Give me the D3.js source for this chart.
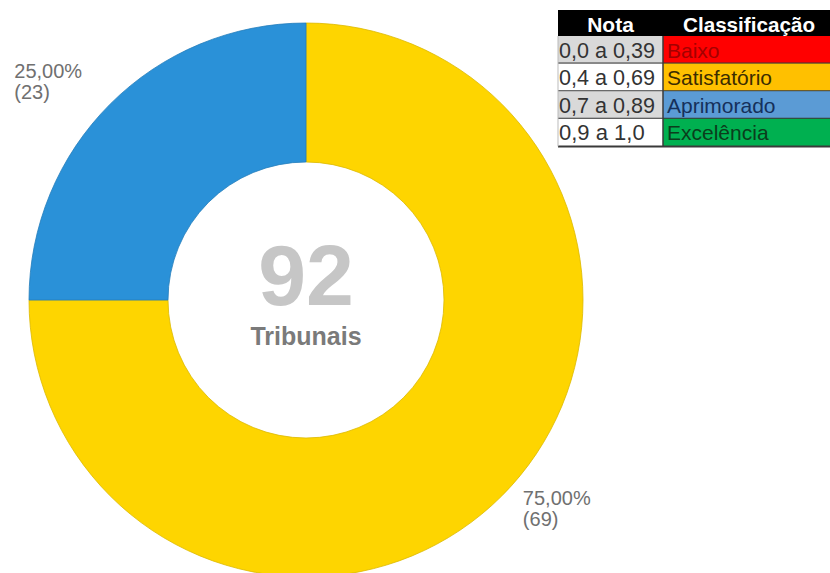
<!DOCTYPE html>
<html>
<head>
<meta charset="utf-8">
<script src="https://cdn.jsdelivr.net/npm/d3@7"></script>
<style>
  body { margin: 0; background: #fff; }
  svg { display: block; font-family: Arial, "Liberation Sans", sans-serif; }
</style>
</head>
<body>
<div id="chart"></div>
<script>
// donut data (order = clockwise from 12 o'clock)
var categories = ["Satisfatório", "Aprimorado"];
var values = [69, 23];
var sliceColors = ["#fed500", "#2a91d8"];
var totalLabel = "Tribunais";

// legend table
var notas = ["0,0 a 0,39", "0,4 a 0,69", "0,7 a 0,89", "0,9 a 1,0"];
var classes = ["Baixo", "Satisfatório", "Aprimorado", "Excelência"];
var classFill = ["#ff0000", "#ffc000", "#5b9bd5", "#00b050"];
var classText = ["#a30000", "#3b2c00", "#15305a", "#0b3d1c"];
var notaFill = ["#d9d9d9", "#ffffff", "#d9d9d9", "#ffffff"];

var width = 830, height = 573;
var cx = 306, cy = 300;
var outerRadius = 277, innerRadius = 138;

var svg = d3.select("#chart").append("svg")
    .attr("width", width)
    .attr("height", height);

var pie = d3.pie().sort(null).value(function(d) { return d; });
var arc = d3.arc().innerRadius(innerRadius).outerRadius(outerRadius);
var total = d3.sum(values);
var fmtPct = function(v) { return d3.format(".2f")(v * 100).replace(".", ",") + "%"; };

var g = svg.append("g")
    .attr("transform", "translate(" + cx + "," + cy + ")");

var arcs = pie(values);

g.selectAll("path.slice")
  .data(arcs)
  .enter().append("path")
    .attr("class", "slice")
    .attr("d", arc)
    .style("fill", function(d, i) { return sliceColors[i]; })
    .style("stroke", function(d, i) { return d3.rgb(sliceColors[i]).darker(0.4); })
    .style("stroke-width", 0.8);

// outside labels, two lines left-aligned as one block
g.selectAll("text.lbl")
  .data(arcs)
  .enter().append("text")
    .attr("class", "lbl")
    .style("font-size", "20px")
    .style("fill", "#707070")
    .each(function(d) {
      var a = (d.startAngle + d.endAngle) / 2;
      var px = Math.sin(a) * outerRadius, py = -Math.cos(a) * outerRadius;
      var y = py < 0 ? py - 26 : py + 9;
      var t = d3.select(this);
      var l1 = t.append("tspan").attr("y", y).text(fmtPct(d.value / total));
      var l2 = t.append("tspan").attr("y", y + 21).text("(" + d.value + ")");
      var w = l1.node().getComputedTextLength();
      var x = px < 0 ? px - 28 - w : px + 21;
      l1.attr("x", x);
      l2.attr("x", x);
    });

// centre
g.append("text")
    .attr("text-anchor", "middle")
    .attr("y", 5)
    .style("font-size", "86px")
    .style("font-weight", "bold")
    .style("fill", "#c6c6c6")
    .text(total);

g.append("text")
    .attr("text-anchor", "middle")
    .attr("y", 45)
    .style("font-size", "25px")
    .style("font-weight", "bold")
    .style("fill", "#7a7a7a")
    .text(totalLabel);

// legend table
var tx = 558, ty = 10, col1 = 105, col2 = 172, headH = 26, rowH = 27.6;
var table = svg.append("g").attr("transform", "translate(" + tx + "," + ty + ")");

table.append("rect")
    .attr("width", col1 + col2).attr("height", headH)
    .style("fill", "#000");
table.append("text")
    .attr("x", col1 / 2).attr("y", 22)
    .attr("text-anchor", "middle")
    .style("font-size", "21px").style("font-weight", "bold").style("fill", "#fff")
    .text("Nota");
table.append("text")
    .attr("x", col1 + 86).attr("y", 22)
    .attr("text-anchor", "middle")
    .attr("textLength", 132).attr("lengthAdjust", "spacingAndGlyphs")
    .style("font-size", "21px").style("font-weight", "bold").style("fill", "#fff")
    .text("Classificação");

var rows = table.selectAll("g.row")
  .data(notas)
  .enter().append("g")
    .attr("class", "row")
    .attr("transform", function(d, i) { return "translate(0," + (headH + i * rowH) + ")"; });

rows.append("rect")
    .attr("width", col1).attr("height", rowH)
    .style("fill", function(d, i) { return notaFill[i]; });
rows.append("rect")
    .attr("x", col1).attr("width", col2).attr("height", rowH)
    .style("fill", function(d, i) { return classFill[i]; });
rows.append("line")
    .attr("x1", 0).attr("x2", col1 + col2)
    .attr("y1", rowH).attr("y2", rowH)
    .style("stroke", "#3a3a3a").style("stroke-width", 2);
rows.append("text")
    .attr("x", 1).attr("y", rowH - 6)
    .attr("textLength", 96).attr("lengthAdjust", "spacingAndGlyphs")
    .style("font-size", "22px").style("fill", "#333")
    .text(function(d) { return d; })
    .filter(function(d, i) { return i === 3; })
    .attr("textLength", null);
rows.append("text")
    .attr("x", col1 + 4).attr("y", rowH - 6)
    .style("font-size", "21px")
    .style("fill", function(d, i) { return classText[i]; })
    .text(function(d, i) { return classes[i]; });

table.append("line")
    .attr("x1", col1).attr("x2", col1)
    .attr("y1", headH).attr("y2", headH + notas.length * rowH)
    .style("stroke", "#3a3a3a").style("stroke-width", 1.5);
table.append("line")
    .attr("x1", 0).attr("x2", 0)
    .attr("y1", headH).attr("y2", headH + notas.length * rowH)
    .style("stroke", "#bbb").style("stroke-width", 1);
</script>
</body>
</html>
